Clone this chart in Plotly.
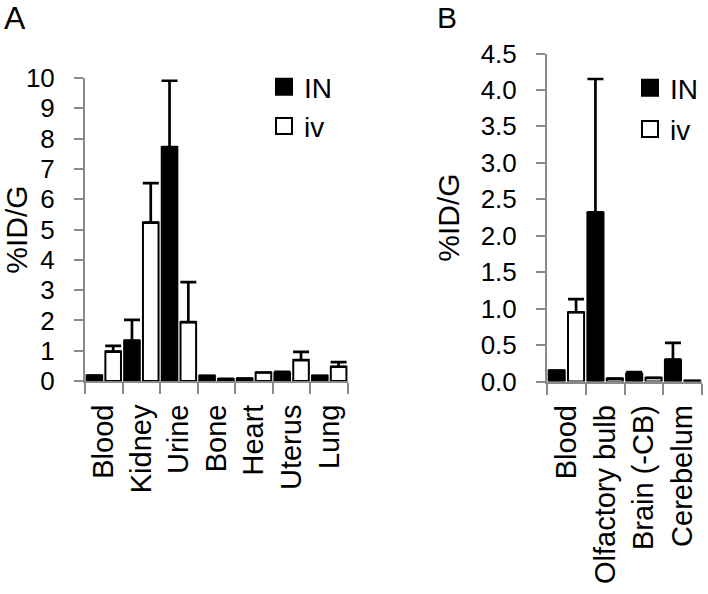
import plotly.graph_objects as go

# ---------------- data ----------------
cats_A = ["Blood", "Kidney", "Urine", "Bone", "Heart", "Uterus", "Lung"]
IN_A = [0.18, 1.33, 7.72, 0.17, 0.08, 0.27, 0.17]
IN_A_err = [0.0, 0.69, 2.19, 0.0, 0.0, 0.03, 0.0]
iv_A = [0.97, 5.23, 1.94, 0.07, 0.28, 0.69, 0.47]
iv_A_err = [0.19, 1.30, 1.32, 0.0, 0.0, 0.27, 0.15]

cats_B = ["Blood", "Olfactory bulb", "Brain (-CB)", "Cerebelum"]
IN_B = [0.15, 2.32, 0.11, 0.30]
IN_B_err = [0.0, 1.83, 0.02, 0.23]
iv_B = [0.95, 0.04, 0.05, 0.01]
iv_B_err = [0.18, 0.0, 0.0, 0.0]

series_names = ["IN", "iv"]
yticks_A = [0, 1, 2, 3, 4, 5, 6, 7, 8, 9, 10]
yticks_B = [0.0, 0.5, 1.0, 1.5, 2.0, 2.5, 3.0, 3.5, 4.0, 4.5]
ytitle = "%ID/G"

# ---------------- style ----------------
FONT = "Liberation Sans, Arial, sans-serif"
AXC = "#8a8a8a"
W, H = 708, 594


def bar(x, y, err, fill, xa, ya):
    return go.Bar(
        x=x, y=y, xaxis=xa, yaxis=ya, showlegend=False,
        marker=dict(color=fill, line=dict(color="black", width=2)),
        error_y=dict(type="data", symmetric=False, array=err,
                     arrayminus=[0] * len(err), color="black",
                     thickness=2.7, width=8),
    )


fig = go.Figure()
fig.add_trace(bar(cats_A, IN_A, IN_A_err, "black", "x", "y"))
fig.add_trace(bar(cats_A, iv_A, iv_A_err, "white", "x", "y"))
fig.add_trace(bar(cats_B, IN_B, IN_B_err, "black", "x2", "y2"))
fig.add_trace(bar(cats_B, iv_B, iv_B_err, "white", "x2", "y2"))

# legend entries
for leg, xa, ya in [("legend", "x", "y"), ("legend2", "x2", "y2")]:
    for name, fill in zip(series_names, ["black", "white"]):
        fig.add_trace(go.Scatter(
            x=[None], y=[None], xaxis=xa, yaxis=ya, mode="markers", name=name,
            legend=leg, legendgroup=leg + name,
            marker=dict(symbol="square", size=16, color=fill,
                        line=dict(color="black", width=2)),
        ))

xax = dict(type="category", showline=True, linecolor=AXC, linewidth=2,
           ticks="outside", tickson="boundaries", ticklen=11, tickwidth=2,
           tickcolor=AXC, tickangle=-90, showgrid=False, zeroline=False,
           tickfont=dict(family=FONT, size=29, color="black"),
           ticklabelstandoff=10, fixedrange=True, automargin=False)
yax = dict(showline=True, linecolor=AXC, linewidth=2, ticks="outside",
           ticklen=9, tickwidth=2, tickcolor=AXC, showgrid=False,
           zeroline=False, tickfont=dict(family=FONT, size=26, color="black"),
           ticklabelstandoff=14, fixedrange=True, automargin=False)

fig.update_layout(
    width=W, height=H, margin=dict(l=0, r=0, t=0, b=0, autoexpand=False),
    paper_bgcolor="white", plot_bgcolor="white",
    barmode="group", bargap=0.0, bargroupgap=0.17,
    font=dict(family=FONT, color="black"),
    xaxis=dict(xax, domain=[85 / W, 348 / W], anchor="y"),
    yaxis=dict(yax, domain=[(H - 381) / H, (H - 78) / H], anchor="x",
               range=[0, 10], tickvals=yticks_A,
               title=dict(text=ytitle, font=dict(size=30), standoff=0)),
    xaxis2=dict(xax, domain=[547 / W, 702 / W], anchor="y2"),
    yaxis2=dict(yax, domain=[(H - 381.5) / H, (H - 53.5) / H], anchor="x2",
                range=[0, 4.5], tickvals=yticks_B, tickformat=".1f",
                title=dict(text=ytitle, font=dict(size=30), standoff=12)),
    legend=dict(x=264 / W, y=1 - 62 / H, xanchor="left", yanchor="top",
                bgcolor="rgba(0,0,0,0)", font=dict(size=28, family=FONT),
                tracegroupgap=0),
    legend2=dict(x=630 / W, y=1 - 63 / H, xanchor="left", yanchor="top",
                 bgcolor="rgba(0,0,0,0)", font=dict(size=28, family=FONT),
                 tracegroupgap=2),
    annotations=[
        dict(text="A", x=2 / W, y=1 - 18 / H, xref="paper", yref="paper",
             xanchor="left", yanchor="middle", showarrow=False,
             font=dict(size=32, family=FONT)),
        dict(text="B", x=435 / W, y=1 - 18 / H, xref="paper", yref="paper",
             xanchor="left", yanchor="middle", showarrow=False,
             font=dict(size=30, family=FONT)),
    ],
)

fig.write_html(
    "out.html",
    config={"displayModeBar": False},
    post_script="document.body.style.margin='0';"
                "document.body.style.overflow='hidden';",
)
